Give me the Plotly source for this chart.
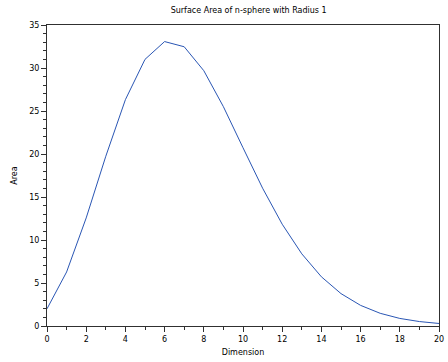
import plotly.graph_objects as go

dimension = list(range(0, 21))
area = [2.000, 6.283, 12.566, 19.739, 26.319, 31.006, 33.073, 32.470, 29.687, 25.502,
        20.725, 16.023, 11.838, 8.390, 5.720, 3.765, 2.396, 1.476, 0.880, 0.516, 0.293]

fig = go.Figure()
fig.add_trace(go.Scatter(x=dimension, y=area, mode="lines",
                         line=dict(color="#2a56b4", width=1)))

axis_common = dict(
    showgrid=False, zeroline=False, showline=True, linecolor="#303030", linewidth=1,
    mirror=True, ticks="outside", ticklen=5, tickwidth=1, tickcolor="#303030",
    tickfont=dict(family="DejaVu Sans", size=8, color="#000000"),
    ticklabeloverflow="allow",
)
fig.update_xaxes(range=[0, 20], dtick=2, tick0=0,
                 minor=dict(dtick=1, ticks="outside", ticklen=3, tickcolor="#303030"),
                 title=dict(text="Dimension", font=dict(family="DejaVu Sans", size=8, color="#000"), standoff=6),
                 **axis_common)
fig.update_yaxes(range=[0, 35], dtick=5, tick0=0,
                 minor=dict(dtick=1, ticks="outside", ticklen=3, tickcolor="#303030"),
                 title=dict(text="Area", font=dict(family="DejaVu Sans", size=8, color="#000"), standoff=10),
                 **axis_common)

fig.update_layout(
    width=448, height=362,
    margin=dict(l=47, r=4, t=25, b=36),
    paper_bgcolor="white", plot_bgcolor="white",
    showlegend=False,
    title=dict(text="Surface Area of n-sphere with Radius 1", x=0.555, xanchor="center",
               y=0.972, yanchor="middle",
               font=dict(family="DejaVu Sans", size=8, color="#000")),
)
fig.write_html("out.html")
